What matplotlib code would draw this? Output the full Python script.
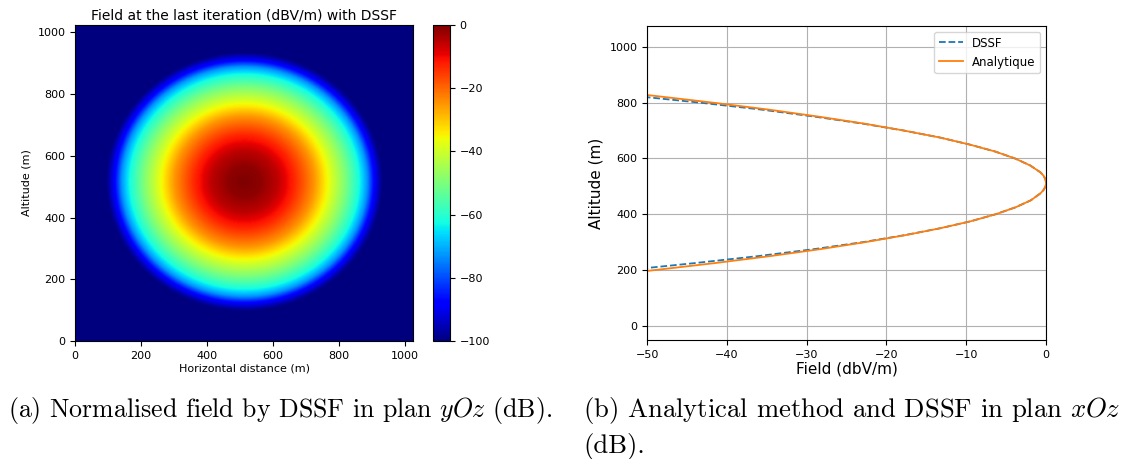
import numpy as np
import matplotlib.pyplot as plt

# Profil radial du champ (carte de gauche)
radius = [0, 50, 100, 148, 180, 212, 258, 306, 348, 372, 392, 405, 418, 430, 800]
radial_field = [0, -1.5, -5.5, -12.5, -18.5, -25, -37.5, -50, -62.5, -73, -87.5, -94, -100, -100, -100]
center_x = 512
center_y = 515
domain = 1024

# Coupe verticale (carte de droite)
altitude = [150, 175, 200, 225, 250, 275, 300, 325, 350, 375, 400, 425, 450, 475, 487.5,
            500, 512, 525, 537.5, 550, 575, 600, 625, 650, 675, 700, 725, 750, 775, 800,
            825, 850, 875]
field_analytic = [-65.8, -57.0, -48.9, -41.4, -34.5, -28.2, -22.6, -17.6, -13.2, -9.4, -6.3,
                  -3.8, -1.9, -0.7, -0.3, -0.07, 0, -0.08, -0.3, -0.7, -2.0, -3.9, -6.4,
                  -9.6, -13.3, -17.8, -22.8, -28.5, -34.7, -41.7, -49.2, -57.4, -66.2]
field_dssf = [-71.0, -61.5, -52.4, -43.9, -36.0, -29.0, -22.9, -17.7, -13.2, -9.4, -6.3,
              -3.8, -1.9, -0.7, -0.3, -0.07, 0, -0.08, -0.3, -0.7, -2.0, -3.9, -6.4,
              -9.6, -13.3, -17.8, -23.0, -29.0, -35.6, -43.3, -51.8, -61.0, -71.0]

plt.rcParams['mathtext.fontset'] = 'cm'

fig = plt.figure(figsize=(11.32, 4.59), dpi=100)

# --- (a) carte du champ ---
ax1 = fig.add_axes([0.0663, 0.2571, 0.2986, 0.6885])
n = 400
g = np.linspace(0, domain, n)
X, Y = np.meshgrid(g, g)
R = np.hypot(X - center_x, Y - center_y)
Z = np.interp(R, radius, radial_field)
im = ax1.imshow(Z, origin='lower', extent=[0, domain, 0, domain], cmap='jet',
                vmin=-100, vmax=0, aspect='auto', interpolation='bilinear')
ax1.set_xticks([0, 200, 400, 600, 800, 1000])
ax1.set_yticks([0, 200, 400, 600, 800, 1000])
ax1.tick_params(labelsize=8)
ax1.set_xlabel('Horizontal distance (m)', fontsize=8, labelpad=2)
ax1.set_ylabel('Altitude (m)', fontsize=8)
ax1.set_title('Field at the last iteration (dBV/m) with DSSF', fontsize=10, pad=4)

cax = fig.add_axes([0.3825, 0.2571, 0.0150, 0.6885])
cb = fig.colorbar(im, cax=cax)
cb.set_ticks([0, -20, -40, -60, -80, -100])
cb.ax.tick_params(labelsize=8)

# --- (b) comparaison ---
ax2 = fig.add_axes([0.5716, 0.2593, 0.3525, 0.6841])
ax2.plot(field_dssf, altitude, '--', color='tab:blue', lw=1.3, label='DSSF')
ax2.plot(field_analytic, altitude, '-', color='tab:orange', lw=1.3, label='Analytique')
ax2.set_xlim(-50, 0)
ax2.set_ylim(-51.2, 1075.2)
ax2.set_yticks([0, 200, 400, 600, 800, 1000])
ax2.tick_params(labelsize=8)
ax2.grid(True)
ax2.set_xlabel('Field (dbV/m)', fontsize=11, labelpad=1)
ax2.set_ylabel('Altitude (m)', fontsize=11)
ax2.legend(loc='upper right', fontsize=8.5)

# Légendes des sous-figures
fig.text(0.007, 1 - 410 / 459, r'(a) Normalised field by DSSF in plan $yOz$ (dB).',
         fontsize=18.6, fontfamily='cmr10', va='center', ha='left')
fig.text(0.515, 1 - 410 / 459, r'(b) Analytical method and DSSF in plan $xOz$',
         fontsize=19.2, fontfamily='cmr10', va='center', ha='left')
fig.text(0.515, 1 - 446 / 459, r'(dB).',
         fontsize=19.2, fontfamily='cmr10', va='center', ha='left')

fig.savefig('out.png', dpi=100)
